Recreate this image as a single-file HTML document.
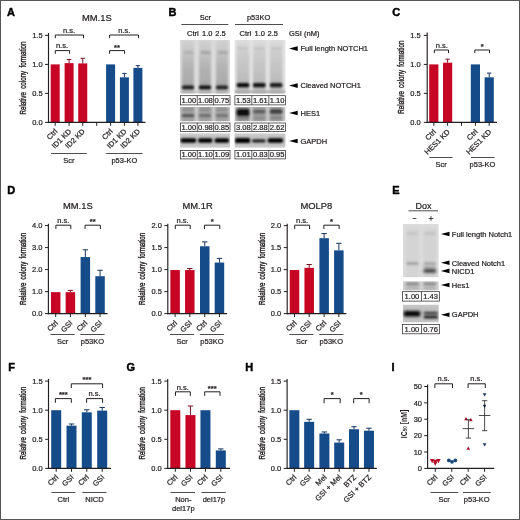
<!DOCTYPE html>
<html><head><meta charset="utf-8"><title>Figure</title>
<style>
html,body{margin:0;padding:0;background:#fff;}
body{width:520px;height:520px;overflow:hidden;position:relative;}
#fig{position:absolute;left:0;top:0;width:520px;height:520px;box-sizing:border-box;}
text{stroke:#231f20;stroke-width:.22px;stroke-linejoin:round;}
svg{display:block;will-change:transform;font-family:'Liberation Sans', sans-serif;}
</style></head><body>
<div id="fig">
<svg width="520" height="520" viewBox="0 0 520 520">
<defs>
<linearGradient id="lgL" x1="0" y1="0" x2="0" y2="1"><stop offset="0" stop-color="#c8c8c8" stop-opacity="0.55"/><stop offset="0.22" stop-color="#bdbdbd" stop-opacity="0.8"/><stop offset="0.45" stop-color="#b0b0b0" stop-opacity="0.95"/><stop offset="0.85" stop-color="#a4a4a4" stop-opacity="1"/><stop offset="1" stop-color="#b4b4b4" stop-opacity="0.9"/></linearGradient>
<linearGradient id="lgR" x1="0" y1="0" x2="0" y2="1"><stop offset="0" stop-color="#d4d4d4" stop-opacity="0.5"/><stop offset="0.25" stop-color="#c6c6c6" stop-opacity="0.85"/><stop offset="0.8" stop-color="#b6b6b6" stop-opacity="1"/><stop offset="1" stop-color="#bcbcbc" stop-opacity="0.9"/></linearGradient>
<clipPath id="cb1"><rect x="180" y="40" width="50" height="53.4"/></clipPath>
<filter id="b11" x="-50%" y="-100%" width="200%" height="300%"><feGaussianBlur stdDeviation="1.1"/></filter>
<filter id="b10" x="-50%" y="-100%" width="200%" height="300%"><feGaussianBlur stdDeviation="1.0"/></filter>
<filter id="b12" x="-50%" y="-100%" width="200%" height="300%"><feGaussianBlur stdDeviation="1.2"/></filter>
<filter id="b8" x="-50%" y="-100%" width="200%" height="300%"><feGaussianBlur stdDeviation="0.8"/></filter>
<clipPath id="cb2"><rect x="234.4" y="40" width="51.2" height="53.6"/></clipPath>
<clipPath id="cb3"><rect x="180" y="107" width="50" height="14.2"/></clipPath>
<clipPath id="cb4"><rect x="234.4" y="107" width="51.2" height="14.2"/></clipPath>
<filter id="b13" x="-50%" y="-100%" width="200%" height="300%"><feGaussianBlur stdDeviation="1.3"/></filter>
<clipPath id="cb5"><rect x="180" y="133.2" width="50" height="14.6"/></clipPath>
<filter id="b15" x="-50%" y="-100%" width="200%" height="300%"><feGaussianBlur stdDeviation="1.5"/></filter>
<clipPath id="cb6"><rect x="234.4" y="133.2" width="51.2" height="14.6"/></clipPath>
<clipPath id="ce1"><rect x="402.8" y="224" width="36" height="53.3"/></clipPath>
<clipPath id="ce2"><rect x="402.8" y="281.2" width="36" height="9.4"/></clipPath>
<clipPath id="ce3"><rect x="402.8" y="304.6" width="36" height="17.8"/></clipPath>
<filter id="b20" x="-50%" y="-100%" width="200%" height="300%"><feGaussianBlur stdDeviation="2.0"/></filter>
</defs>
<rect x="0" y="0" width="520" height="520" fill="#fff"/>
<text x="7.0" y="16.0" font-size="11" text-anchor="start" font-weight="bold" fill="#000" style="stroke:#000;stroke-width:.45px">A</text>
<text x="96.8" y="20.7" font-size="9.4" text-anchor="middle" font-weight="normal" fill="#231f20">MM.1S</text>
<text x="22.7" y="114.6" font-size="8.6" fill="#231f20" textLength="73.1" lengthAdjust="spacingAndGlyphs" transform="rotate(-90 22.7 114.6)" dominant-baseline="central" style="stroke-width:.4px;word-spacing:2px">Relative colony formation</text>
<rect x="50.70" y="64.40" width="9" height="58.00" fill="#c70524"/>
<rect x="64.60" y="63.12" width="9" height="59.28" fill="#c70524"/>
<line x1="69.1" y1="63.124" x2="69.1" y2="59.470000000000006" stroke="#7d1222" stroke-width="1.0" stroke-linecap="butt"/>
<line x1="66.89999999999999" y1="59.470000000000006" x2="71.3" y2="59.470000000000006" stroke="#7d1222" stroke-width="1.0" stroke-linecap="butt"/>
<rect x="78.25" y="63.41" width="9" height="58.99" fill="#c70524"/>
<line x1="82.75" y1="63.41400000000001" x2="82.75" y2="58.31" stroke="#7d1222" stroke-width="1.0" stroke-linecap="butt"/>
<line x1="80.55" y1="58.31" x2="84.95" y2="58.31" stroke="#7d1222" stroke-width="1.0" stroke-linecap="butt"/>
<rect x="106.10" y="64.40" width="9" height="58.00" fill="#164b8a"/>
<rect x="119.90" y="77.33" width="9" height="45.07" fill="#164b8a"/>
<line x1="124.4" y1="77.334" x2="124.4" y2="73.39000000000001" stroke="#17355f" stroke-width="1.0" stroke-linecap="butt"/>
<line x1="122.2" y1="73.39000000000001" x2="126.60000000000001" y2="73.39000000000001" stroke="#17355f" stroke-width="1.0" stroke-linecap="butt"/>
<rect x="133.40" y="67.88" width="9" height="54.52" fill="#164b8a"/>
<line x1="137.9" y1="67.88000000000001" x2="137.9" y2="65.67600000000002" stroke="#17355f" stroke-width="1.0" stroke-linecap="butt"/>
<line x1="135.70000000000002" y1="65.67600000000002" x2="140.1" y2="65.67600000000002" stroke="#17355f" stroke-width="1.0" stroke-linecap="butt"/>
<line x1="48.5" y1="33" x2="48.5" y2="122.95" stroke="#231f20" stroke-width="1.15" stroke-linecap="butt"/>
<line x1="47.95" y1="122.4" x2="145.5" y2="122.4" stroke="#231f20" stroke-width="1.15" stroke-linecap="butt"/>
<line x1="45.1" y1="122.4" x2="48.5" y2="122.4" stroke="#231f20" stroke-width="1.0" stroke-linecap="butt"/>
<text x="42.6" y="125.10000000000001" font-size="7.5" text-anchor="end" font-weight="normal" fill="#231f20">0.0</text>
<line x1="45.1" y1="93.4" x2="48.5" y2="93.4" stroke="#231f20" stroke-width="1.0" stroke-linecap="butt"/>
<text x="42.6" y="96.10000000000001" font-size="7.5" text-anchor="end" font-weight="normal" fill="#231f20">0.5</text>
<line x1="45.1" y1="64.4" x2="48.5" y2="64.4" stroke="#231f20" stroke-width="1.0" stroke-linecap="butt"/>
<text x="42.6" y="67.10000000000001" font-size="7.5" text-anchor="end" font-weight="normal" fill="#231f20">1.0</text>
<line x1="45.1" y1="35.400000000000006" x2="48.5" y2="35.400000000000006" stroke="#231f20" stroke-width="1.0" stroke-linecap="butt"/>
<text x="42.6" y="38.10000000000001" font-size="7.5" text-anchor="end" font-weight="normal" fill="#231f20">1.5</text>
<line x1="55.2" y1="122.4" x2="55.2" y2="125.80000000000001" stroke="#231f20" stroke-width="1.0" stroke-linecap="butt"/>
<line x1="69.1" y1="122.4" x2="69.1" y2="125.80000000000001" stroke="#231f20" stroke-width="1.0" stroke-linecap="butt"/>
<line x1="82.75" y1="122.4" x2="82.75" y2="125.80000000000001" stroke="#231f20" stroke-width="1.0" stroke-linecap="butt"/>
<line x1="110.6" y1="122.4" x2="110.6" y2="125.80000000000001" stroke="#231f20" stroke-width="1.0" stroke-linecap="butt"/>
<line x1="124.4" y1="122.4" x2="124.4" y2="125.80000000000001" stroke="#231f20" stroke-width="1.0" stroke-linecap="butt"/>
<line x1="137.9" y1="122.4" x2="137.9" y2="125.80000000000001" stroke="#231f20" stroke-width="1.0" stroke-linecap="butt"/>
<line x1="96.7" y1="122.4" x2="96.7" y2="125.80000000000001" stroke="#231f20" stroke-width="1.0" stroke-linecap="butt"/>
<text x="57.900000000000006" y="131.9" font-size="7.5" text-anchor="end" font-weight="normal" fill="#231f20" transform="rotate(-45 57.900000000000006 131.9)">Ctrl</text>
<text x="71.8" y="131.9" font-size="7.5" text-anchor="end" font-weight="normal" fill="#231f20" transform="rotate(-45 71.8 131.9)">ID1 KD</text>
<text x="85.45" y="131.9" font-size="7.5" text-anchor="end" font-weight="normal" fill="#231f20" transform="rotate(-45 85.45 131.9)">ID2 KD</text>
<text x="113.3" y="131.9" font-size="7.5" text-anchor="end" font-weight="normal" fill="#231f20" transform="rotate(-45 113.3 131.9)">Ctrl</text>
<text x="127.10000000000001" y="131.9" font-size="7.5" text-anchor="end" font-weight="normal" fill="#231f20" transform="rotate(-45 127.10000000000001 131.9)">ID1 KD</text>
<text x="140.6" y="131.9" font-size="7.5" text-anchor="end" font-weight="normal" fill="#231f20" transform="rotate(-45 140.6 131.9)">ID2 KD</text>
<path d="M55.3 38.2V35H83.5V38.2" fill="none" stroke="#231f20" stroke-width="1.0"/>
<text x="69" y="32.6" font-size="7.5" text-anchor="middle" font-weight="normal" fill="#231f20">n.s.</text>
<path d="M55.3 53.800000000000004V50.6H69.6V53.800000000000004" fill="none" stroke="#231f20" stroke-width="1.0"/>
<text x="62" y="48" font-size="7.5" text-anchor="middle" font-weight="normal" fill="#231f20">n.s.</text>
<path d="M109.6 38.2V35H138.5V38.2" fill="none" stroke="#231f20" stroke-width="1.0"/>
<text x="124.2" y="32.7" font-size="7.5" text-anchor="middle" font-weight="normal" fill="#231f20">n.s.</text>
<path d="M109.6 53.800000000000004V50.6H124.6V53.800000000000004" fill="none" stroke="#231f20" stroke-width="1.0"/>
<text x="117" y="50" font-size="7.5" text-anchor="middle" font-weight="bold" fill="#231f20">**</text>
<line x1="51" y1="153.5" x2="86.8" y2="153.5" stroke="#231f20" stroke-width="0.8" stroke-linecap="butt"/>
<text x="68.9" y="162.6" font-size="7.5" text-anchor="middle" font-weight="normal" fill="#231f20">Scr</text>
<line x1="106.2" y1="153.5" x2="142.5" y2="153.5" stroke="#231f20" stroke-width="0.8" stroke-linecap="butt"/>
<text x="124.35" y="162.6" font-size="7.5" text-anchor="middle" font-weight="normal" fill="#231f20">p53-KO</text>
<text x="392.2" y="16.1" font-size="11" text-anchor="start" font-weight="bold" fill="#000" style="stroke:#000;stroke-width:.45px">C</text>
<text x="401.2" y="113.7" font-size="8.6" fill="#231f20" textLength="73.1" lengthAdjust="spacingAndGlyphs" transform="rotate(-90 401.2 113.7)" dominant-baseline="central" style="stroke-width:.4px;word-spacing:2px">Relative colony formation</text>
<rect x="429.20" y="64.40" width="9.2" height="58.00" fill="#c70524"/>
<rect x="443.00" y="62.66" width="9.2" height="59.74" fill="#c70524"/>
<line x1="447.6" y1="62.660000000000004" x2="447.6" y2="59.18" stroke="#7d1222" stroke-width="1.0" stroke-linecap="butt"/>
<line x1="445.40000000000003" y1="59.18" x2="449.8" y2="59.18" stroke="#7d1222" stroke-width="1.0" stroke-linecap="butt"/>
<rect x="470.80" y="64.40" width="9.2" height="58.00" fill="#164b8a"/>
<rect x="484.60" y="77.33" width="9.2" height="45.07" fill="#164b8a"/>
<line x1="489.2" y1="77.334" x2="489.2" y2="73.10000000000001" stroke="#17355f" stroke-width="1.0" stroke-linecap="butt"/>
<line x1="487.0" y1="73.10000000000001" x2="491.4" y2="73.10000000000001" stroke="#17355f" stroke-width="1.0" stroke-linecap="butt"/>
<line x1="427.2" y1="32.5" x2="427.2" y2="122.95" stroke="#231f20" stroke-width="1.15" stroke-linecap="butt"/>
<line x1="426.65" y1="122.4" x2="497" y2="122.4" stroke="#231f20" stroke-width="1.15" stroke-linecap="butt"/>
<line x1="423.8" y1="122.4" x2="427.2" y2="122.4" stroke="#231f20" stroke-width="1.0" stroke-linecap="butt"/>
<text x="420.8" y="125.10000000000001" font-size="7.5" text-anchor="end" font-weight="normal" fill="#231f20">0.0</text>
<line x1="423.8" y1="93.4" x2="427.2" y2="93.4" stroke="#231f20" stroke-width="1.0" stroke-linecap="butt"/>
<text x="420.8" y="96.10000000000001" font-size="7.5" text-anchor="end" font-weight="normal" fill="#231f20">0.5</text>
<line x1="423.8" y1="64.4" x2="427.2" y2="64.4" stroke="#231f20" stroke-width="1.0" stroke-linecap="butt"/>
<text x="420.8" y="67.10000000000001" font-size="7.5" text-anchor="end" font-weight="normal" fill="#231f20">1.0</text>
<line x1="423.8" y1="35.400000000000006" x2="427.2" y2="35.400000000000006" stroke="#231f20" stroke-width="1.0" stroke-linecap="butt"/>
<text x="420.8" y="38.10000000000001" font-size="7.5" text-anchor="end" font-weight="normal" fill="#231f20">1.5</text>
<line x1="433.8" y1="122.4" x2="433.8" y2="125.80000000000001" stroke="#231f20" stroke-width="1.0" stroke-linecap="butt"/>
<line x1="447.6" y1="122.4" x2="447.6" y2="125.80000000000001" stroke="#231f20" stroke-width="1.0" stroke-linecap="butt"/>
<line x1="475.4" y1="122.4" x2="475.4" y2="125.80000000000001" stroke="#231f20" stroke-width="1.0" stroke-linecap="butt"/>
<line x1="489.2" y1="122.4" x2="489.2" y2="125.80000000000001" stroke="#231f20" stroke-width="1.0" stroke-linecap="butt"/>
<line x1="461.5" y1="122.4" x2="461.5" y2="125.80000000000001" stroke="#231f20" stroke-width="1.0" stroke-linecap="butt"/>
<text x="436.5" y="132.4" font-size="7.5" text-anchor="end" font-weight="normal" fill="#231f20" transform="rotate(-45 436.5 132.4)">Ctrl</text>
<text x="450.3" y="132.4" font-size="7.5" text-anchor="end" font-weight="normal" fill="#231f20" transform="rotate(-45 450.3 132.4)">HES1 KD</text>
<text x="478.09999999999997" y="132.4" font-size="7.5" text-anchor="end" font-weight="normal" fill="#231f20" transform="rotate(-45 478.09999999999997 132.4)">Ctrl</text>
<text x="491.9" y="132.4" font-size="7.5" text-anchor="end" font-weight="normal" fill="#231f20" transform="rotate(-45 491.9 132.4)">HES1 KD</text>
<path d="M434.3 53.2V50.0H448.5V53.2" fill="none" stroke="#231f20" stroke-width="1.0"/>
<text x="441.8" y="47.5" font-size="7.5" text-anchor="middle" font-weight="normal" fill="#231f20">n.s.</text>
<path d="M474.8 53.2V50.0H489.5V53.2" fill="none" stroke="#231f20" stroke-width="1.0"/>
<text x="482.2" y="49.2" font-size="7.5" text-anchor="middle" font-weight="bold" fill="#231f20">*</text>
<line x1="429.5" y1="157.5" x2="452.6" y2="157.5" stroke="#231f20" stroke-width="0.8" stroke-linecap="butt"/>
<text x="441" y="167.3" font-size="7.5" text-anchor="middle" font-weight="normal" fill="#231f20">Scr</text>
<line x1="470.8" y1="157.5" x2="494.6" y2="157.5" stroke="#231f20" stroke-width="0.8" stroke-linecap="butt"/>
<text x="482.5" y="167.3" font-size="7.5" text-anchor="middle" font-weight="normal" fill="#231f20">p53-KO</text>
<text x="7.2" y="194.2" font-size="11" text-anchor="start" font-weight="bold" fill="#000" style="stroke:#000;stroke-width:.45px">D</text>
<text x="77.8" y="208.6" font-size="9.4" text-anchor="middle" font-weight="normal" fill="#231f20">MM.1S</text>
<rect x="50.95" y="292.15" width="9.5" height="21.45" fill="#c70524"/>
<rect x="65.65" y="292.15" width="9.5" height="21.45" fill="#c70524"/>
<line x1="70.4" y1="292.15000000000003" x2="70.4" y2="290.39000000000004" stroke="#7d1222" stroke-width="1.0" stroke-linecap="butt"/>
<line x1="67.7" y1="290.39000000000004" x2="73.10000000000001" y2="290.39000000000004" stroke="#7d1222" stroke-width="1.0" stroke-linecap="butt"/>
<rect x="80.60" y="257.06" width="9.5" height="56.54" fill="#164b8a"/>
<line x1="85.35" y1="257.06" x2="85.35" y2="249.8" stroke="#17355f" stroke-width="1.0" stroke-linecap="butt"/>
<line x1="82.64999999999999" y1="249.8" x2="88.05" y2="249.8" stroke="#17355f" stroke-width="1.0" stroke-linecap="butt"/>
<rect x="95.30" y="276.20" width="9.5" height="37.40" fill="#164b8a"/>
<line x1="100.05" y1="276.20000000000005" x2="100.05" y2="270.26000000000005" stroke="#17355f" stroke-width="1.0" stroke-linecap="butt"/>
<line x1="97.35" y1="270.26000000000005" x2="102.75" y2="270.26000000000005" stroke="#17355f" stroke-width="1.0" stroke-linecap="butt"/>
<line x1="48.4" y1="223.8" x2="48.4" y2="314.15000000000003" stroke="#231f20" stroke-width="1.15" stroke-linecap="butt"/>
<line x1="47.85" y1="313.6" x2="107.6" y2="313.6" stroke="#231f20" stroke-width="1.15" stroke-linecap="butt"/>
<line x1="45.0" y1="313.6" x2="48.4" y2="313.6" stroke="#231f20" stroke-width="1.0" stroke-linecap="butt"/>
<text x="42.5" y="316.3" font-size="7.5" text-anchor="end" font-weight="normal" fill="#231f20">0.0</text>
<line x1="45.0" y1="291.6" x2="48.4" y2="291.6" stroke="#231f20" stroke-width="1.0" stroke-linecap="butt"/>
<text x="42.5" y="294.3" font-size="7.5" text-anchor="end" font-weight="normal" fill="#231f20">1.0</text>
<line x1="45.0" y1="269.6" x2="48.4" y2="269.6" stroke="#231f20" stroke-width="1.0" stroke-linecap="butt"/>
<text x="42.5" y="272.3" font-size="7.5" text-anchor="end" font-weight="normal" fill="#231f20">2.0</text>
<line x1="45.0" y1="247.60000000000002" x2="48.4" y2="247.60000000000002" stroke="#231f20" stroke-width="1.0" stroke-linecap="butt"/>
<text x="42.5" y="250.3" font-size="7.5" text-anchor="end" font-weight="normal" fill="#231f20">3.0</text>
<line x1="45.0" y1="225.60000000000002" x2="48.4" y2="225.60000000000002" stroke="#231f20" stroke-width="1.0" stroke-linecap="butt"/>
<text x="42.5" y="228.3" font-size="7.5" text-anchor="end" font-weight="normal" fill="#231f20">4.0</text>
<line x1="55.699999999999996" y1="313.6" x2="55.699999999999996" y2="317.0" stroke="#231f20" stroke-width="1.0" stroke-linecap="butt"/>
<line x1="70.4" y1="313.6" x2="70.4" y2="317.0" stroke="#231f20" stroke-width="1.0" stroke-linecap="butt"/>
<line x1="85.35" y1="313.6" x2="85.35" y2="317.0" stroke="#231f20" stroke-width="1.0" stroke-linecap="butt"/>
<line x1="100.05" y1="313.6" x2="100.05" y2="317.0" stroke="#231f20" stroke-width="1.0" stroke-linecap="butt"/>
<text x="58.4" y="323.5" font-size="7.5" text-anchor="end" font-weight="normal" fill="#231f20" transform="rotate(-45 58.4 323.5)">Ctrl</text>
<text x="73.10000000000001" y="323.5" font-size="7.5" text-anchor="end" font-weight="normal" fill="#231f20" transform="rotate(-45 73.10000000000001 323.5)">GSI</text>
<text x="88.05" y="323.5" font-size="7.5" text-anchor="end" font-weight="normal" fill="#231f20" transform="rotate(-45 88.05 323.5)">Ctrl</text>
<text x="102.75" y="323.5" font-size="7.5" text-anchor="end" font-weight="normal" fill="#231f20" transform="rotate(-45 102.75 323.5)">GSI</text>
<path d="M55.9 229.0V225.2H70.80000000000001V229.0" fill="none" stroke="#231f20" stroke-width="1.0"/>
<path d="M85.05 229.0V225.2H100.35V229.0" fill="none" stroke="#231f20" stroke-width="1.0"/>
<text x="63.25" y="222.7" font-size="7.5" text-anchor="middle" font-weight="normal" fill="#231f20">n.s.</text>
<text x="92.69999999999999" y="223.9" font-size="7.5" text-anchor="middle" font-weight="bold" fill="#231f20">**</text>
<text x="23.3" y="304.9" font-size="8.6" fill="#231f20" textLength="72.09999999999997" lengthAdjust="spacingAndGlyphs" transform="rotate(-90 23.3 304.9)" dominant-baseline="central" style="stroke-width:.4px;word-spacing:2px">Relative colony formation</text>
<line x1="50.5" y1="334.5" x2="74.6" y2="334.5" stroke="#231f20" stroke-width="0.8" stroke-linecap="butt"/>
<text x="62.6" y="343.6" font-size="7.5" text-anchor="middle" font-weight="normal" fill="#231f20">Scr</text>
<line x1="80.3" y1="334.5" x2="104.6" y2="334.5" stroke="#231f20" stroke-width="0.8" stroke-linecap="butt"/>
<text x="92.4" y="343.6" font-size="7.5" text-anchor="middle" font-weight="normal" fill="#231f20">p53KO</text>
<text x="197.6" y="208.6" font-size="9.4" text-anchor="middle" font-weight="normal" fill="#231f20">MM.1R</text>
<rect x="170.35" y="270.04" width="9.5" height="43.56" fill="#c70524"/>
<rect x="185.05" y="270.04" width="9.5" height="43.56" fill="#c70524"/>
<line x1="189.8" y1="270.04" x2="189.8" y2="268.5" stroke="#7d1222" stroke-width="1.0" stroke-linecap="butt"/>
<line x1="187.10000000000002" y1="268.5" x2="192.5" y2="268.5" stroke="#7d1222" stroke-width="1.0" stroke-linecap="butt"/>
<rect x="200.00" y="246.28" width="9.5" height="67.32" fill="#164b8a"/>
<line x1="204.75" y1="246.28000000000003" x2="204.75" y2="241.88000000000002" stroke="#17355f" stroke-width="1.0" stroke-linecap="butt"/>
<line x1="202.05" y1="241.88000000000002" x2="207.45" y2="241.88000000000002" stroke="#17355f" stroke-width="1.0" stroke-linecap="butt"/>
<rect x="214.70" y="262.56" width="9.5" height="51.04" fill="#164b8a"/>
<line x1="219.45000000000002" y1="262.56" x2="219.45000000000002" y2="258.38" stroke="#17355f" stroke-width="1.0" stroke-linecap="butt"/>
<line x1="216.75000000000003" y1="258.38" x2="222.15" y2="258.38" stroke="#17355f" stroke-width="1.0" stroke-linecap="butt"/>
<line x1="167.8" y1="223.8" x2="167.8" y2="314.15000000000003" stroke="#231f20" stroke-width="1.15" stroke-linecap="butt"/>
<line x1="167.25" y1="313.6" x2="227.0" y2="313.6" stroke="#231f20" stroke-width="1.15" stroke-linecap="butt"/>
<line x1="164.4" y1="313.6" x2="167.8" y2="313.6" stroke="#231f20" stroke-width="1.0" stroke-linecap="butt"/>
<text x="161.9" y="316.3" font-size="7.5" text-anchor="end" font-weight="normal" fill="#231f20">0.0</text>
<line x1="164.4" y1="291.6" x2="167.8" y2="291.6" stroke="#231f20" stroke-width="1.0" stroke-linecap="butt"/>
<text x="161.9" y="294.3" font-size="7.5" text-anchor="end" font-weight="normal" fill="#231f20">0.5</text>
<line x1="164.4" y1="269.6" x2="167.8" y2="269.6" stroke="#231f20" stroke-width="1.0" stroke-linecap="butt"/>
<text x="161.9" y="272.3" font-size="7.5" text-anchor="end" font-weight="normal" fill="#231f20">1.0</text>
<line x1="164.4" y1="247.60000000000002" x2="167.8" y2="247.60000000000002" stroke="#231f20" stroke-width="1.0" stroke-linecap="butt"/>
<text x="161.9" y="250.3" font-size="7.5" text-anchor="end" font-weight="normal" fill="#231f20">1.5</text>
<line x1="164.4" y1="225.60000000000002" x2="167.8" y2="225.60000000000002" stroke="#231f20" stroke-width="1.0" stroke-linecap="butt"/>
<text x="161.9" y="228.3" font-size="7.5" text-anchor="end" font-weight="normal" fill="#231f20">2.0</text>
<line x1="175.10000000000002" y1="313.6" x2="175.10000000000002" y2="317.0" stroke="#231f20" stroke-width="1.0" stroke-linecap="butt"/>
<line x1="189.8" y1="313.6" x2="189.8" y2="317.0" stroke="#231f20" stroke-width="1.0" stroke-linecap="butt"/>
<line x1="204.75" y1="313.6" x2="204.75" y2="317.0" stroke="#231f20" stroke-width="1.0" stroke-linecap="butt"/>
<line x1="219.45000000000002" y1="313.6" x2="219.45000000000002" y2="317.0" stroke="#231f20" stroke-width="1.0" stroke-linecap="butt"/>
<text x="177.8" y="323.5" font-size="7.5" text-anchor="end" font-weight="normal" fill="#231f20" transform="rotate(-45 177.8 323.5)">Ctrl</text>
<text x="192.5" y="323.5" font-size="7.5" text-anchor="end" font-weight="normal" fill="#231f20" transform="rotate(-45 192.5 323.5)">GSI</text>
<text x="207.45" y="323.5" font-size="7.5" text-anchor="end" font-weight="normal" fill="#231f20" transform="rotate(-45 207.45 323.5)">Ctrl</text>
<text x="222.15" y="323.5" font-size="7.5" text-anchor="end" font-weight="normal" fill="#231f20" transform="rotate(-45 222.15 323.5)">GSI</text>
<path d="M175.3 229.0V225.2H190.20000000000002V229.0" fill="none" stroke="#231f20" stroke-width="1.0"/>
<path d="M204.45 229.0V225.2H219.75000000000003V229.0" fill="none" stroke="#231f20" stroke-width="1.0"/>
<text x="182.65" y="222.7" font-size="7.5" text-anchor="middle" font-weight="normal" fill="#231f20">n.s.</text>
<text x="212.10000000000002" y="223.9" font-size="7.5" text-anchor="middle" font-weight="bold" fill="#231f20">*</text>
<text x="141.9" y="304.9" font-size="8.6" fill="#231f20" textLength="72.09999999999997" lengthAdjust="spacingAndGlyphs" transform="rotate(-90 141.9 304.9)" dominant-baseline="central" style="stroke-width:.4px;word-spacing:2px">Relative colony formation</text>
<line x1="170" y1="334.5" x2="194.1" y2="334.5" stroke="#231f20" stroke-width="0.8" stroke-linecap="butt"/>
<text x="182.1" y="343.6" font-size="7.5" text-anchor="middle" font-weight="normal" fill="#231f20">Scr</text>
<line x1="199.8" y1="334.5" x2="224.1" y2="334.5" stroke="#231f20" stroke-width="0.8" stroke-linecap="butt"/>
<text x="211.9" y="343.6" font-size="7.5" text-anchor="middle" font-weight="normal" fill="#231f20">p53KO</text>
<text x="316.3" y="208.6" font-size="9.4" text-anchor="middle" font-weight="normal" fill="#231f20">MOLP8</text>
<rect x="289.75" y="270.04" width="9.5" height="43.56" fill="#c70524"/>
<rect x="304.45" y="267.84" width="9.5" height="45.76" fill="#c70524"/>
<line x1="309.2" y1="267.84000000000003" x2="309.2" y2="264.49600000000004" stroke="#7d1222" stroke-width="1.0" stroke-linecap="butt"/>
<line x1="306.5" y1="264.49600000000004" x2="311.9" y2="264.49600000000004" stroke="#7d1222" stroke-width="1.0" stroke-linecap="butt"/>
<rect x="319.40" y="238.18" width="9.5" height="75.42" fill="#164b8a"/>
<line x1="324.15" y1="238.18400000000003" x2="324.15" y2="233.608" stroke="#17355f" stroke-width="1.0" stroke-linecap="butt"/>
<line x1="321.45" y1="233.608" x2="326.84999999999997" y2="233.608" stroke="#17355f" stroke-width="1.0" stroke-linecap="butt"/>
<rect x="334.10" y="250.37" width="9.5" height="63.23" fill="#164b8a"/>
<line x1="338.84999999999997" y1="250.372" x2="338.84999999999997" y2="243.288" stroke="#17355f" stroke-width="1.0" stroke-linecap="butt"/>
<line x1="336.15" y1="243.288" x2="341.54999999999995" y2="243.288" stroke="#17355f" stroke-width="1.0" stroke-linecap="butt"/>
<line x1="287.2" y1="223.8" x2="287.2" y2="314.15000000000003" stroke="#231f20" stroke-width="1.15" stroke-linecap="butt"/>
<line x1="286.65" y1="313.6" x2="346.4" y2="313.6" stroke="#231f20" stroke-width="1.15" stroke-linecap="butt"/>
<line x1="283.8" y1="313.6" x2="287.2" y2="313.6" stroke="#231f20" stroke-width="1.0" stroke-linecap="butt"/>
<text x="281.3" y="316.3" font-size="7.5" text-anchor="end" font-weight="normal" fill="#231f20">0.0</text>
<line x1="283.8" y1="291.6" x2="287.2" y2="291.6" stroke="#231f20" stroke-width="1.0" stroke-linecap="butt"/>
<text x="281.3" y="294.3" font-size="7.5" text-anchor="end" font-weight="normal" fill="#231f20">0.5</text>
<line x1="283.8" y1="269.6" x2="287.2" y2="269.6" stroke="#231f20" stroke-width="1.0" stroke-linecap="butt"/>
<text x="281.3" y="272.3" font-size="7.5" text-anchor="end" font-weight="normal" fill="#231f20">1.0</text>
<line x1="283.8" y1="247.60000000000002" x2="287.2" y2="247.60000000000002" stroke="#231f20" stroke-width="1.0" stroke-linecap="butt"/>
<text x="281.3" y="250.3" font-size="7.5" text-anchor="end" font-weight="normal" fill="#231f20">1.5</text>
<line x1="283.8" y1="225.60000000000002" x2="287.2" y2="225.60000000000002" stroke="#231f20" stroke-width="1.0" stroke-linecap="butt"/>
<text x="281.3" y="228.3" font-size="7.5" text-anchor="end" font-weight="normal" fill="#231f20">2.0</text>
<line x1="294.5" y1="313.6" x2="294.5" y2="317.0" stroke="#231f20" stroke-width="1.0" stroke-linecap="butt"/>
<line x1="309.2" y1="313.6" x2="309.2" y2="317.0" stroke="#231f20" stroke-width="1.0" stroke-linecap="butt"/>
<line x1="324.15" y1="313.6" x2="324.15" y2="317.0" stroke="#231f20" stroke-width="1.0" stroke-linecap="butt"/>
<line x1="338.84999999999997" y1="313.6" x2="338.84999999999997" y2="317.0" stroke="#231f20" stroke-width="1.0" stroke-linecap="butt"/>
<text x="297.2" y="323.5" font-size="7.5" text-anchor="end" font-weight="normal" fill="#231f20" transform="rotate(-45 297.2 323.5)">Ctrl</text>
<text x="311.9" y="323.5" font-size="7.5" text-anchor="end" font-weight="normal" fill="#231f20" transform="rotate(-45 311.9 323.5)">GSI</text>
<text x="326.84999999999997" y="323.5" font-size="7.5" text-anchor="end" font-weight="normal" fill="#231f20" transform="rotate(-45 326.84999999999997 323.5)">Ctrl</text>
<text x="341.54999999999995" y="323.5" font-size="7.5" text-anchor="end" font-weight="normal" fill="#231f20" transform="rotate(-45 341.54999999999995 323.5)">GSI</text>
<path d="M294.7 229.0V225.2H309.59999999999997V229.0" fill="none" stroke="#231f20" stroke-width="1.0"/>
<path d="M323.84999999999997 229.0V225.2H339.15V229.0" fill="none" stroke="#231f20" stroke-width="1.0"/>
<text x="302.05" y="222.7" font-size="7.5" text-anchor="middle" font-weight="normal" fill="#231f20">n.s.</text>
<text x="331.5" y="223.9" font-size="7.5" text-anchor="middle" font-weight="bold" fill="#231f20">*</text>
<text x="261.8" y="304.9" font-size="8.6" fill="#231f20" textLength="72.09999999999997" lengthAdjust="spacingAndGlyphs" transform="rotate(-90 261.8 304.9)" dominant-baseline="central" style="stroke-width:.4px;word-spacing:2px">Relative colony formation</text>
<line x1="289.4" y1="334.5" x2="313.5" y2="334.5" stroke="#231f20" stroke-width="0.8" stroke-linecap="butt"/>
<text x="301.5" y="343.6" font-size="7.5" text-anchor="middle" font-weight="normal" fill="#231f20">Scr</text>
<line x1="319.2" y1="334.5" x2="343.5" y2="334.5" stroke="#231f20" stroke-width="0.8" stroke-linecap="butt"/>
<text x="331.3" y="343.6" font-size="7.5" text-anchor="middle" font-weight="normal" fill="#231f20">p53KO</text>
<text x="8.2" y="370.6" font-size="11" text-anchor="start" font-weight="bold" fill="#000" style="stroke:#000;stroke-width:.45px">F</text>
<text x="22.9" y="459.6" font-size="8.6" fill="#231f20" textLength="72.70000000000005" lengthAdjust="spacingAndGlyphs" transform="rotate(-90 22.9 459.6)" dominant-baseline="central" style="stroke-width:.4px;word-spacing:2px">Relative colony formation</text>
<rect x="51.20" y="410.20" width="10" height="58.20" fill="#164b8a"/>
<rect x="66.50" y="425.68" width="10" height="42.72" fill="#164b8a"/>
<line x1="71.5" y1="425.6812" x2="71.5" y2="423.99339999999995" stroke="#17355f" stroke-width="1.0" stroke-linecap="butt"/>
<line x1="68.8" y1="423.99339999999995" x2="74.2" y2="423.99339999999995" stroke="#17355f" stroke-width="1.0" stroke-linecap="butt"/>
<rect x="81.80" y="412.30" width="10" height="56.10" fill="#164b8a"/>
<line x1="86.8" y1="412.29519999999997" x2="86.8" y2="409.7926" stroke="#17355f" stroke-width="1.0" stroke-linecap="butt"/>
<line x1="84.1" y1="409.7926" x2="89.5" y2="409.7926" stroke="#17355f" stroke-width="1.0" stroke-linecap="butt"/>
<rect x="97.20" y="410.61" width="10" height="57.79" fill="#164b8a"/>
<line x1="102.2" y1="410.6074" x2="102.2" y2="407.46459999999996" stroke="#17355f" stroke-width="1.0" stroke-linecap="butt"/>
<line x1="99.5" y1="407.46459999999996" x2="104.9" y2="407.46459999999996" stroke="#17355f" stroke-width="1.0" stroke-linecap="butt"/>
<line x1="48.5" y1="378.9" x2="48.5" y2="468.95" stroke="#231f20" stroke-width="1.15" stroke-linecap="butt"/>
<line x1="47.95" y1="468.4" x2="111" y2="468.4" stroke="#231f20" stroke-width="1.15" stroke-linecap="butt"/>
<line x1="45.1" y1="468.4" x2="48.5" y2="468.4" stroke="#231f20" stroke-width="1.0" stroke-linecap="butt"/>
<text x="42.6" y="471.09999999999997" font-size="7.5" text-anchor="end" font-weight="normal" fill="#231f20">0.0</text>
<line x1="45.1" y1="439.29999999999995" x2="48.5" y2="439.29999999999995" stroke="#231f20" stroke-width="1.0" stroke-linecap="butt"/>
<text x="42.6" y="441.99999999999994" font-size="7.5" text-anchor="end" font-weight="normal" fill="#231f20">0.5</text>
<line x1="45.1" y1="410.2" x2="48.5" y2="410.2" stroke="#231f20" stroke-width="1.0" stroke-linecap="butt"/>
<text x="42.6" y="412.9" font-size="7.5" text-anchor="end" font-weight="normal" fill="#231f20">1.0</text>
<line x1="45.1" y1="381.09999999999997" x2="48.5" y2="381.09999999999997" stroke="#231f20" stroke-width="1.0" stroke-linecap="butt"/>
<text x="42.6" y="383.79999999999995" font-size="7.5" text-anchor="end" font-weight="normal" fill="#231f20">1.5</text>
<line x1="56.2" y1="468.4" x2="56.2" y2="471.79999999999995" stroke="#231f20" stroke-width="1.0" stroke-linecap="butt"/>
<line x1="71.5" y1="468.4" x2="71.5" y2="471.79999999999995" stroke="#231f20" stroke-width="1.0" stroke-linecap="butt"/>
<line x1="86.8" y1="468.4" x2="86.8" y2="471.79999999999995" stroke="#231f20" stroke-width="1.0" stroke-linecap="butt"/>
<line x1="102.2" y1="468.4" x2="102.2" y2="471.79999999999995" stroke="#231f20" stroke-width="1.0" stroke-linecap="butt"/>
<text x="58.900000000000006" y="477.7" font-size="7.5" text-anchor="end" font-weight="normal" fill="#231f20" transform="rotate(-45 58.900000000000006 477.7)">Ctrl</text>
<text x="74.2" y="477.7" font-size="7.5" text-anchor="end" font-weight="normal" fill="#231f20" transform="rotate(-45 74.2 477.7)">GSI</text>
<text x="89.5" y="477.7" font-size="7.5" text-anchor="end" font-weight="normal" fill="#231f20" transform="rotate(-45 89.5 477.7)">Ctrl</text>
<text x="104.9" y="477.7" font-size="7.5" text-anchor="end" font-weight="normal" fill="#231f20" transform="rotate(-45 104.9 477.7)">GSI</text>
<path d="M55.4 402.8V398.6H71.3V402.8" fill="none" stroke="#231f20" stroke-width="1.0"/>
<text x="63.3" y="397.1" font-size="7.5" text-anchor="middle" font-weight="bold" fill="#231f20">***</text>
<path d="M86.6 402.8V398.6H102.6V402.8" fill="none" stroke="#231f20" stroke-width="1.0"/>
<text x="94.5" y="395.8" font-size="7.5" text-anchor="middle" font-weight="normal" fill="#231f20">n.s.</text>
<path d="M71.3 388.0V383.8H102.6V388.0" fill="none" stroke="#231f20" stroke-width="1.0"/>
<text x="87" y="381.7" font-size="7.5" text-anchor="middle" font-weight="bold" fill="#231f20">***</text>
<line x1="51.5" y1="492.5" x2="75.4" y2="492.5" stroke="#231f20" stroke-width="0.8" stroke-linecap="butt"/>
<text x="63.45" y="501.8" font-size="7.5" text-anchor="middle" font-weight="normal" fill="#231f20">Ctrl</text>
<line x1="82.3" y1="492.5" x2="106.5" y2="492.5" stroke="#231f20" stroke-width="0.8" stroke-linecap="butt"/>
<text x="94.4" y="501.8" font-size="7.5" text-anchor="middle" font-weight="normal" fill="#231f20">NICD</text>
<text x="126.4" y="370.6" font-size="11" text-anchor="start" font-weight="bold" fill="#000" style="stroke:#000;stroke-width:.45px">G</text>
<text x="142.2" y="459.6" font-size="8.6" fill="#231f20" textLength="72.70000000000005" lengthAdjust="spacingAndGlyphs" transform="rotate(-90 142.2 459.6)" dominant-baseline="central" style="stroke-width:.4px;word-spacing:2px">Relative colony formation</text>
<rect x="170.30" y="410.20" width="10" height="58.20" fill="#c70524"/>
<rect x="185.45" y="415.09" width="10" height="53.31" fill="#c70524"/>
<line x1="190.45" y1="415.0888" x2="190.45" y2="406.0096" stroke="#7d1222" stroke-width="1.0" stroke-linecap="butt"/>
<line x1="187.75" y1="406.0096" x2="193.14999999999998" y2="406.0096" stroke="#7d1222" stroke-width="1.0" stroke-linecap="butt"/>
<rect x="200.45" y="410.20" width="10" height="58.20" fill="#164b8a"/>
<rect x="215.80" y="450.42" width="10" height="17.98" fill="#164b8a"/>
<line x1="220.8" y1="450.4162" x2="220.8" y2="448.90299999999996" stroke="#17355f" stroke-width="1.0" stroke-linecap="butt"/>
<line x1="218.10000000000002" y1="448.90299999999996" x2="223.5" y2="448.90299999999996" stroke="#17355f" stroke-width="1.0" stroke-linecap="butt"/>
<line x1="167.7" y1="378.9" x2="167.7" y2="468.95" stroke="#231f20" stroke-width="1.15" stroke-linecap="butt"/>
<line x1="167.14999999999998" y1="468.4" x2="230" y2="468.4" stroke="#231f20" stroke-width="1.15" stroke-linecap="butt"/>
<line x1="164.29999999999998" y1="468.4" x2="167.7" y2="468.4" stroke="#231f20" stroke-width="1.0" stroke-linecap="butt"/>
<text x="161.79999999999998" y="471.09999999999997" font-size="7.5" text-anchor="end" font-weight="normal" fill="#231f20">0.0</text>
<line x1="164.29999999999998" y1="439.29999999999995" x2="167.7" y2="439.29999999999995" stroke="#231f20" stroke-width="1.0" stroke-linecap="butt"/>
<text x="161.79999999999998" y="441.99999999999994" font-size="7.5" text-anchor="end" font-weight="normal" fill="#231f20">0.5</text>
<line x1="164.29999999999998" y1="410.2" x2="167.7" y2="410.2" stroke="#231f20" stroke-width="1.0" stroke-linecap="butt"/>
<text x="161.79999999999998" y="412.9" font-size="7.5" text-anchor="end" font-weight="normal" fill="#231f20">1.0</text>
<line x1="164.29999999999998" y1="381.09999999999997" x2="167.7" y2="381.09999999999997" stroke="#231f20" stroke-width="1.0" stroke-linecap="butt"/>
<text x="161.79999999999998" y="383.79999999999995" font-size="7.5" text-anchor="end" font-weight="normal" fill="#231f20">1.5</text>
<line x1="175.3" y1="468.4" x2="175.3" y2="471.79999999999995" stroke="#231f20" stroke-width="1.0" stroke-linecap="butt"/>
<line x1="190.45" y1="468.4" x2="190.45" y2="471.79999999999995" stroke="#231f20" stroke-width="1.0" stroke-linecap="butt"/>
<line x1="205.45" y1="468.4" x2="205.45" y2="471.79999999999995" stroke="#231f20" stroke-width="1.0" stroke-linecap="butt"/>
<line x1="220.8" y1="468.4" x2="220.8" y2="471.79999999999995" stroke="#231f20" stroke-width="1.0" stroke-linecap="butt"/>
<text x="178.0" y="477.7" font-size="7.5" text-anchor="end" font-weight="normal" fill="#231f20" transform="rotate(-45 178.0 477.7)">Ctrl</text>
<text x="193.14999999999998" y="477.7" font-size="7.5" text-anchor="end" font-weight="normal" fill="#231f20" transform="rotate(-45 193.14999999999998 477.7)">GSI</text>
<text x="208.14999999999998" y="477.7" font-size="7.5" text-anchor="end" font-weight="normal" fill="#231f20" transform="rotate(-45 208.14999999999998 477.7)">Ctrl</text>
<text x="223.5" y="477.7" font-size="7.5" text-anchor="end" font-weight="normal" fill="#231f20" transform="rotate(-45 223.5 477.7)">GSI</text>
<path d="M175.5 395.8V391.8H190.3V395.8" fill="none" stroke="#231f20" stroke-width="1.0"/>
<text x="182.7" y="389.5" font-size="7.5" text-anchor="middle" font-weight="normal" fill="#231f20">n.s.</text>
<path d="M204.7 395.8V391.8H220V395.8" fill="none" stroke="#231f20" stroke-width="1.0"/>
<text x="212.2" y="390.9" font-size="7.5" text-anchor="middle" font-weight="bold" fill="#231f20">***</text>
<line x1="170.5" y1="492.5" x2="195" y2="492.5" stroke="#231f20" stroke-width="0.8" stroke-linecap="butt"/>
<text x="183.3" y="501.8" font-size="7.5" text-anchor="middle" font-weight="normal" fill="#231f20">Non-</text>
<text x="183.3" y="510.6" font-size="7.5" text-anchor="middle" font-weight="normal" fill="#231f20">del17p</text>
<line x1="201.5" y1="492.5" x2="225.8" y2="492.5" stroke="#231f20" stroke-width="0.8" stroke-linecap="butt"/>
<text x="213.9" y="501.8" font-size="7.5" text-anchor="middle" font-weight="normal" fill="#231f20">del17p</text>
<text x="245.2" y="370.6" font-size="11" text-anchor="start" font-weight="bold" fill="#000" style="stroke:#000;stroke-width:.45px">H</text>
<text x="261.8" y="459.6" font-size="8.6" fill="#231f20" textLength="72.70000000000005" lengthAdjust="spacingAndGlyphs" transform="rotate(-90 261.8 459.6)" dominant-baseline="central" style="stroke-width:.4px;word-spacing:2px">Relative colony formation</text>
<rect x="289.35" y="410.20" width="10" height="58.20" fill="#164b8a"/>
<rect x="304.15" y="421.84" width="10" height="46.56" fill="#164b8a"/>
<line x1="309.15" y1="421.84" x2="309.15" y2="419.27919999999995" stroke="#17355f" stroke-width="1.0" stroke-linecap="butt"/>
<line x1="306.45" y1="419.27919999999995" x2="311.84999999999997" y2="419.27919999999995" stroke="#17355f" stroke-width="1.0" stroke-linecap="butt"/>
<rect x="319.40" y="433.48" width="10" height="34.92" fill="#164b8a"/>
<line x1="324.4" y1="433.47999999999996" x2="324.4" y2="431.9668" stroke="#17355f" stroke-width="1.0" stroke-linecap="butt"/>
<line x1="321.7" y1="431.9668" x2="327.09999999999997" y2="431.9668" stroke="#17355f" stroke-width="1.0" stroke-linecap="butt"/>
<rect x="334.20" y="442.56" width="10" height="25.84" fill="#164b8a"/>
<line x1="339.2" y1="442.5592" x2="339.2" y2="439.8238" stroke="#17355f" stroke-width="1.0" stroke-linecap="butt"/>
<line x1="336.5" y1="439.8238" x2="341.9" y2="439.8238" stroke="#17355f" stroke-width="1.0" stroke-linecap="butt"/>
<rect x="349.00" y="429.23" width="10" height="39.17" fill="#164b8a"/>
<line x1="354" y1="429.23139999999995" x2="354" y2="426.7288" stroke="#17355f" stroke-width="1.0" stroke-linecap="butt"/>
<line x1="351.3" y1="426.7288" x2="356.7" y2="426.7288" stroke="#17355f" stroke-width="1.0" stroke-linecap="butt"/>
<rect x="363.95" y="430.69" width="10" height="37.71" fill="#164b8a"/>
<line x1="368.95" y1="430.6864" x2="368.95" y2="428.18379999999996" stroke="#17355f" stroke-width="1.0" stroke-linecap="butt"/>
<line x1="366.25" y1="428.18379999999996" x2="371.65" y2="428.18379999999996" stroke="#17355f" stroke-width="1.0" stroke-linecap="butt"/>
<line x1="287.1" y1="378.9" x2="287.1" y2="468.95" stroke="#231f20" stroke-width="1.15" stroke-linecap="butt"/>
<line x1="286.55" y1="468.4" x2="376.8" y2="468.4" stroke="#231f20" stroke-width="1.15" stroke-linecap="butt"/>
<line x1="283.70000000000005" y1="468.4" x2="287.1" y2="468.4" stroke="#231f20" stroke-width="1.0" stroke-linecap="butt"/>
<text x="281.20000000000005" y="471.09999999999997" font-size="7.5" text-anchor="end" font-weight="normal" fill="#231f20">0.0</text>
<line x1="283.70000000000005" y1="439.29999999999995" x2="287.1" y2="439.29999999999995" stroke="#231f20" stroke-width="1.0" stroke-linecap="butt"/>
<text x="281.20000000000005" y="441.99999999999994" font-size="7.5" text-anchor="end" font-weight="normal" fill="#231f20">0.5</text>
<line x1="283.70000000000005" y1="410.2" x2="287.1" y2="410.2" stroke="#231f20" stroke-width="1.0" stroke-linecap="butt"/>
<text x="281.20000000000005" y="412.9" font-size="7.5" text-anchor="end" font-weight="normal" fill="#231f20">1.0</text>
<line x1="283.70000000000005" y1="381.09999999999997" x2="287.1" y2="381.09999999999997" stroke="#231f20" stroke-width="1.0" stroke-linecap="butt"/>
<text x="281.20000000000005" y="383.79999999999995" font-size="7.5" text-anchor="end" font-weight="normal" fill="#231f20">1.5</text>
<line x1="294.35" y1="468.4" x2="294.35" y2="471.79999999999995" stroke="#231f20" stroke-width="1.0" stroke-linecap="butt"/>
<line x1="309.15" y1="468.4" x2="309.15" y2="471.79999999999995" stroke="#231f20" stroke-width="1.0" stroke-linecap="butt"/>
<line x1="324.4" y1="468.4" x2="324.4" y2="471.79999999999995" stroke="#231f20" stroke-width="1.0" stroke-linecap="butt"/>
<line x1="339.2" y1="468.4" x2="339.2" y2="471.79999999999995" stroke="#231f20" stroke-width="1.0" stroke-linecap="butt"/>
<line x1="354" y1="468.4" x2="354" y2="471.79999999999995" stroke="#231f20" stroke-width="1.0" stroke-linecap="butt"/>
<line x1="368.95" y1="468.4" x2="368.95" y2="471.79999999999995" stroke="#231f20" stroke-width="1.0" stroke-linecap="butt"/>
<text x="297.05" y="477.7" font-size="7.5" text-anchor="end" font-weight="normal" fill="#231f20" transform="rotate(-45 297.05 477.7)">Ctrl</text>
<text x="311.84999999999997" y="477.7" font-size="7.5" text-anchor="end" font-weight="normal" fill="#231f20" transform="rotate(-45 311.84999999999997 477.7)">GSI</text>
<text x="327.09999999999997" y="477.7" font-size="7.5" text-anchor="end" font-weight="normal" fill="#231f20" transform="rotate(-45 327.09999999999997 477.7)">Mel</text>
<text x="341.9" y="477.7" font-size="7.5" text-anchor="end" font-weight="normal" fill="#231f20" transform="rotate(-45 341.9 477.7)">GSI + Mel</text>
<text x="356.7" y="477.7" font-size="7.5" text-anchor="end" font-weight="normal" fill="#231f20" transform="rotate(-45 356.7 477.7)">BTZ</text>
<text x="371.65" y="477.7" font-size="7.5" text-anchor="end" font-weight="normal" fill="#231f20" transform="rotate(-45 371.65 477.7)">GSI + BTZ</text>
<path d="M324.1 403.20000000000005V398.6H340.2V403.20000000000005" fill="none" stroke="#231f20" stroke-width="1.0"/>
<text x="332.1" y="397" font-size="7.5" text-anchor="middle" font-weight="bold" fill="#231f20">*</text>
<path d="M353.7 403.20000000000005V398.6H369.1V403.20000000000005" fill="none" stroke="#231f20" stroke-width="1.0"/>
<text x="361.3" y="397" font-size="7.5" text-anchor="middle" font-weight="bold" fill="#231f20">*</text>
<text x="391.6" y="370.6" font-size="11" text-anchor="start" font-weight="bold" fill="#000" style="stroke:#000;stroke-width:.45px">I</text>
<line x1="427.6" y1="384.4" x2="427.6" y2="468.95" stroke="#231f20" stroke-width="1.15" stroke-linecap="butt"/>
<line x1="427.05" y1="468.4" x2="494.2" y2="468.4" stroke="#231f20" stroke-width="1.15" stroke-linecap="butt"/>
<line x1="424.20000000000005" y1="468.4" x2="427.6" y2="468.4" stroke="#231f20" stroke-width="1.0" stroke-linecap="butt"/>
<text x="422.0" y="471.09999999999997" font-size="7.5" text-anchor="end" font-weight="normal" fill="#231f20">0</text>
<line x1="424.20000000000005" y1="452.02" x2="427.6" y2="452.02" stroke="#231f20" stroke-width="1.0" stroke-linecap="butt"/>
<text x="422.0" y="454.71999999999997" font-size="7.5" text-anchor="end" font-weight="normal" fill="#231f20">10</text>
<line x1="424.20000000000005" y1="435.64" x2="427.6" y2="435.64" stroke="#231f20" stroke-width="1.0" stroke-linecap="butt"/>
<text x="422.0" y="438.34" font-size="7.5" text-anchor="end" font-weight="normal" fill="#231f20">20</text>
<line x1="424.20000000000005" y1="419.26" x2="427.6" y2="419.26" stroke="#231f20" stroke-width="1.0" stroke-linecap="butt"/>
<text x="422.0" y="421.96" font-size="7.5" text-anchor="end" font-weight="normal" fill="#231f20">30</text>
<line x1="424.20000000000005" y1="402.88" x2="427.6" y2="402.88" stroke="#231f20" stroke-width="1.0" stroke-linecap="butt"/>
<text x="422.0" y="405.58" font-size="7.5" text-anchor="end" font-weight="normal" fill="#231f20">40</text>
<line x1="424.20000000000005" y1="386.5" x2="427.6" y2="386.5" stroke="#231f20" stroke-width="1.0" stroke-linecap="butt"/>
<text x="422.0" y="389.2" font-size="7.5" text-anchor="end" font-weight="normal" fill="#231f20">50</text>
<line x1="435.3" y1="468.4" x2="435.3" y2="471.79999999999995" stroke="#231f20" stroke-width="1.0" stroke-linecap="butt"/>
<text x="438.0" y="477.7" font-size="7.5" text-anchor="end" font-weight="normal" fill="#231f20" transform="rotate(-45 438.0 477.7)">Ctrl</text>
<line x1="451.8" y1="468.4" x2="451.8" y2="471.79999999999995" stroke="#231f20" stroke-width="1.0" stroke-linecap="butt"/>
<text x="454.5" y="477.7" font-size="7.5" text-anchor="end" font-weight="normal" fill="#231f20" transform="rotate(-45 454.5 477.7)">GSI</text>
<line x1="468.2" y1="468.4" x2="468.2" y2="471.79999999999995" stroke="#231f20" stroke-width="1.0" stroke-linecap="butt"/>
<text x="470.9" y="477.7" font-size="7.5" text-anchor="end" font-weight="normal" fill="#231f20" transform="rotate(-45 470.9 477.7)">Ctrl</text>
<line x1="484.6" y1="468.4" x2="484.6" y2="471.79999999999995" stroke="#231f20" stroke-width="1.0" stroke-linecap="butt"/>
<text x="487.3" y="477.7" font-size="7.5" text-anchor="end" font-weight="normal" fill="#231f20" transform="rotate(-45 487.3 477.7)">GSI</text>
<text x="403.6" y="438.2" font-size="9" font-weight="bold" fill="#231f20" style="stroke-width:0" transform="rotate(-90 403.6 438.2)" dominant-baseline="central" textLength="28.4" lengthAdjust="spacingAndGlyphs">IC<tspan font-size="6" dy="1.5">50</tspan><tspan dy="-1.5"> [nM]</tspan></text>
<path d="M429.9 458.945H434.5L432.2 463.2Z" fill="#b80a28"/>
<path d="M436.09999999999997 458.945H440.7L438.4 463.2Z" fill="#b80a28"/>
<path d="M433.0 461.445H437.6L435.3 465.7Z" fill="#b80a28"/>
<path d="M433.0 459.64500000000004H437.6L435.3 463.90000000000003Z" fill="#b80a28"/>
<circle cx="448.9" cy="460.4" r="1.9" fill="#1a467f"/>
<circle cx="452.0" cy="461.8" r="1.9" fill="#1a467f"/>
<circle cx="455.3" cy="460.4" r="1.9" fill="#1a467f"/>
<path d="M464.2 420.22999999999996H467.8L466 416.9Z" fill="#a80a26"/>
<path d="M469.09999999999997 421.22999999999996H472.7L470.9 417.9Z" fill="#a80a26"/>
<path d="M466.5 449.83H470.1L468.3 446.5Z" fill="#a80a26"/>
<path d="M482.8 393.22H486.40000000000003L484.6 396.55Z" fill="#15335f"/>
<path d="M482.8 404.87H486.40000000000003L484.6 408.2Z" fill="#15335f"/>
<path d="M482.8 443.17H486.40000000000003L484.6 446.5Z" fill="#15335f"/>
<line x1="462.59999999999997" y1="428.6" x2="474.2" y2="428.6" stroke="#231f20" stroke-width="0.8" stroke-linecap="butt"/>
<line x1="468.4" y1="419.7" x2="468.4" y2="438.1" stroke="#231f20" stroke-width="0.8" stroke-linecap="butt"/>
<line x1="465.7" y1="419.7" x2="471.09999999999997" y2="419.7" stroke="#231f20" stroke-width="0.8" stroke-linecap="butt"/>
<line x1="465.7" y1="438.1" x2="471.09999999999997" y2="438.1" stroke="#231f20" stroke-width="0.8" stroke-linecap="butt"/>
<line x1="478.8" y1="415.5" x2="490.40000000000003" y2="415.5" stroke="#231f20" stroke-width="0.8" stroke-linecap="butt"/>
<line x1="484.6" y1="400.7" x2="484.6" y2="430.7" stroke="#231f20" stroke-width="0.8" stroke-linecap="butt"/>
<line x1="481.90000000000003" y1="400.7" x2="487.3" y2="400.7" stroke="#231f20" stroke-width="0.8" stroke-linecap="butt"/>
<line x1="481.90000000000003" y1="430.7" x2="487.3" y2="430.7" stroke="#231f20" stroke-width="0.8" stroke-linecap="butt"/>
<path d="M434.9 388.0V383.8H452.5V388.0" fill="none" stroke="#231f20" stroke-width="1.0"/>
<text x="443.6" y="381" font-size="7.5" text-anchor="middle" font-weight="normal" fill="#231f20">n.s.</text>
<path d="M468.1 388.0V383.8H485.3V388.0" fill="none" stroke="#231f20" stroke-width="1.0"/>
<text x="476.4" y="381" font-size="7.5" text-anchor="middle" font-weight="normal" fill="#231f20">n.s.</text>
<line x1="430.5" y1="492.5" x2="458.2" y2="492.5" stroke="#231f20" stroke-width="0.8" stroke-linecap="butt"/>
<text x="444.2" y="501.8" font-size="7.5" text-anchor="middle" font-weight="normal" fill="#231f20">Scr</text>
<line x1="462.8" y1="492.5" x2="490.8" y2="492.5" stroke="#231f20" stroke-width="0.8" stroke-linecap="butt"/>
<text x="476.8" y="501.8" font-size="7.5" text-anchor="middle" font-weight="normal" fill="#231f20">p53-KO</text>
<text x="168.6" y="16.0" font-size="11" text-anchor="start" font-weight="bold" fill="#000" style="stroke:#000;stroke-width:.45px">B</text>
<line x1="181.3" y1="24.5" x2="228.3" y2="24.5" stroke="#231f20" stroke-width="0.8" stroke-linecap="butt"/>
<text x="205.4" y="19.6" font-size="7.5" text-anchor="middle" font-weight="normal" fill="#231f20">Scr</text>
<line x1="235" y1="24.5" x2="283" y2="24.5" stroke="#231f20" stroke-width="0.8" stroke-linecap="butt"/>
<text x="258.6" y="19.6" font-size="7.5" text-anchor="middle" font-weight="normal" fill="#231f20">p53KO</text>
<text x="187" y="35.8" font-size="7.5" text-anchor="start" font-weight="normal" fill="#231f20">Ctrl</text>
<text x="202" y="35.8" font-size="7.5" text-anchor="start" font-weight="normal" fill="#231f20">1.0</text>
<text x="215.3" y="35.8" font-size="7.5" text-anchor="start" font-weight="normal" fill="#231f20">2.5</text>
<text x="239.5" y="35.8" font-size="7.5" text-anchor="start" font-weight="normal" fill="#231f20">Ctrl</text>
<text x="254.5" y="35.8" font-size="7.5" text-anchor="start" font-weight="normal" fill="#231f20">1.0</text>
<text x="267.6" y="35.8" font-size="7.5" text-anchor="start" font-weight="normal" fill="#231f20">2.5</text>
<text x="289" y="35.8" font-size="7.5" text-anchor="start" font-weight="normal" fill="#231f20">GSI (nM)</text>
<g clip-path="url(#cb1)">
<rect x="180" y="40" width="50" height="53.4" fill="#dbdbdb"/>
<rect x="182" y="40" width="12" height="56" fill="url(#lgL)" opacity="0.95" filter="url(#b11)"/>
<rect x="183.80" y="51.30" width="10" height="2.6" rx="1.3" fill="#808080" opacity="0.3" filter="url(#b10)"/>
<rect x="181.90" y="85.60" width="12.2" height="3.6" rx="1.6" fill="#000" opacity="0.8464" filter="url(#b12)"/>
<rect x="199" y="40" width="12" height="56" fill="url(#lgL)" opacity="0.95" filter="url(#b11)"/>
<rect x="200.80" y="51.30" width="10" height="2.6" rx="1.3" fill="#808080" opacity="0.5" filter="url(#b10)"/>
<rect x="198.90" y="85.60" width="12.2" height="3.6" rx="1.6" fill="#000" opacity="0.92" filter="url(#b12)"/>
<rect x="216" y="40" width="12" height="56" fill="url(#lgL)" opacity="0.95" filter="url(#b11)"/>
<rect x="217.80" y="51.30" width="10" height="2.6" rx="1.3" fill="#808080" opacity="0.45" filter="url(#b10)"/>
<rect x="215.90" y="85.60" width="12.2" height="3.6" rx="1.6" fill="#000" opacity="0.8096" filter="url(#b12)"/>
<rect x="180" y="91" width="50" height="3" fill="#b8b8b8" opacity="0.5" filter="url(#b8)"/>
</g>
<g clip-path="url(#cb2)">
<rect x="234.4" y="40" width="51.2" height="53.6" fill="#e2e2e2"/>
<rect x="236.8" y="40" width="12.4" height="56" fill="url(#lgR)" opacity="0.95" filter="url(#b11)"/>
<rect x="238.00" y="47.20" width="10" height="2.4" rx="1.2" fill="#999" opacity="0.35" filter="url(#b10)"/>
<rect x="236.70" y="83.10" width="12.6" height="4.2" rx="1.6" fill="#000" opacity="0.95" filter="url(#b12)"/>
<rect x="253.10000000000002" y="40" width="12.4" height="56" fill="url(#lgR)" opacity="0.95" filter="url(#b11)"/>
<rect x="254.30" y="47.20" width="10" height="2.4" rx="1.2" fill="#999" opacity="0.35" filter="url(#b10)"/>
<rect x="253.00" y="83.10" width="12.6" height="4.2" rx="1.6" fill="#000" opacity="0.9025" filter="url(#b12)"/>
<rect x="270.0" y="40" width="12.4" height="56" fill="url(#lgR)" opacity="0.95" filter="url(#b11)"/>
<rect x="271.20" y="47.20" width="10" height="2.4" rx="1.2" fill="#999" opacity="0.35" filter="url(#b10)"/>
<rect x="269.90" y="83.10" width="12.6" height="4.2" rx="1.6" fill="#000" opacity="0.855" filter="url(#b12)"/>
<rect x="234" y="90.2" width="52" height="4" fill="#a4a4a4" opacity="0.7" filter="url(#b8)"/>
</g>
<rect x="180.4" y="95.7" width="49.6" height="9.2" fill="#fff" stroke="#231f20" stroke-width="0.7"/>
<line x1="197.3" y1="95.7" x2="197.3" y2="104.9" stroke="#231f20" stroke-width="0.7" stroke-linecap="butt"/>
<line x1="213.6" y1="95.7" x2="213.6" y2="104.9" stroke="#231f20" stroke-width="0.7" stroke-linecap="butt"/>
<text x="188.85000000000002" y="103.05" font-size="7.6" text-anchor="middle" font-weight="normal" fill="#231f20">1.00</text>
<text x="205.45" y="103.05" font-size="7.6" text-anchor="middle" font-weight="normal" fill="#231f20">1.08</text>
<text x="221.8" y="103.05" font-size="7.6" text-anchor="middle" font-weight="normal" fill="#231f20">0.75</text>
<rect x="234.9" y="95.7" width="50.6" height="9.2" fill="#fff" stroke="#231f20" stroke-width="0.7"/>
<line x1="251.8" y1="95.7" x2="251.8" y2="104.9" stroke="#231f20" stroke-width="0.7" stroke-linecap="butt"/>
<line x1="268.8" y1="95.7" x2="268.8" y2="104.9" stroke="#231f20" stroke-width="0.7" stroke-linecap="butt"/>
<text x="243.35000000000002" y="103.05" font-size="7.6" text-anchor="middle" font-weight="normal" fill="#231f20">1.53</text>
<text x="260.3" y="103.05" font-size="7.6" text-anchor="middle" font-weight="normal" fill="#231f20">1.61</text>
<text x="277.15" y="103.05" font-size="7.6" text-anchor="middle" font-weight="normal" fill="#231f20">1.10</text>
<g clip-path="url(#cb3)">
<rect x="180" y="107" width="50" height="14.2" fill="#c8c8c8"/>
<rect x="181.6" y="106" width="12.8" height="17" fill="#9c9c9c" opacity="0.85" filter="url(#b11)"/>
<rect x="182.00" y="108.40" width="12" height="2.4" rx="1.2" fill="#777" opacity="0.55" filter="url(#b10)"/>
<rect x="181.80" y="114.30" width="12.4" height="2.6" rx="1.3" fill="#3a3a3a" opacity="0.8" filter="url(#b11)"/>
<rect x="198.6" y="106" width="12.8" height="17" fill="#9c9c9c" opacity="0.85" filter="url(#b11)"/>
<rect x="199.00" y="108.40" width="12" height="2.4" rx="1.2" fill="#777" opacity="0.55" filter="url(#b10)"/>
<rect x="198.80" y="114.30" width="12.4" height="2.6" rx="1.3" fill="#3a3a3a" opacity="0.55" filter="url(#b11)"/>
<rect x="215.6" y="106" width="12.8" height="17" fill="#9c9c9c" opacity="0.85" filter="url(#b11)"/>
<rect x="216.00" y="108.40" width="12" height="2.4" rx="1.2" fill="#777" opacity="0.55" filter="url(#b10)"/>
<rect x="215.80" y="114.30" width="12.4" height="2.6" rx="1.3" fill="#3a3a3a" opacity="0.5" filter="url(#b11)"/>
</g>
<g clip-path="url(#cb4)">
<rect x="234.4" y="107" width="51.2" height="14.2" fill="#c6c6c6"/>
<rect x="236.6" y="106" width="12.8" height="17" fill="#989898" opacity="0.85" filter="url(#b11)"/>
<rect x="236.70" y="109.10" width="12.6" height="7.0" rx="1.6" fill="#0a0a0a" opacity="1.0" filter="url(#b13)"/>
<rect x="236.80" y="116.70" width="12.4" height="2.2" rx="1.1" fill="#444" opacity="0.5" filter="url(#b10)"/>
<rect x="252.9" y="106" width="12.8" height="17" fill="#989898" opacity="0.85" filter="url(#b11)"/>
<rect x="253.00" y="109.90" width="12.6" height="3.4" rx="1.6" fill="#0a0a0a" opacity="0.5" filter="url(#b13)"/>
<rect x="253.10" y="116.70" width="12.4" height="2.2" rx="1.1" fill="#444" opacity="0.25" filter="url(#b10)"/>
<rect x="269.8" y="106" width="12.8" height="17" fill="#989898" opacity="0.85" filter="url(#b11)"/>
<rect x="269.90" y="109.60" width="12.6" height="4.0" rx="1.6" fill="#0a0a0a" opacity="0.7" filter="url(#b13)"/>
<rect x="270.00" y="116.70" width="12.4" height="2.2" rx="1.1" fill="#444" opacity="0.35" filter="url(#b10)"/>
</g>
<rect x="180.4" y="123" width="49.6" height="8.6" fill="#fff" stroke="#231f20" stroke-width="0.7"/>
<line x1="197.3" y1="123" x2="197.3" y2="131.6" stroke="#231f20" stroke-width="0.7" stroke-linecap="butt"/>
<line x1="213.6" y1="123" x2="213.6" y2="131.6" stroke="#231f20" stroke-width="0.7" stroke-linecap="butt"/>
<text x="188.85000000000002" y="130.05" font-size="7.6" text-anchor="middle" font-weight="normal" fill="#231f20">1.00</text>
<text x="205.45" y="130.05" font-size="7.6" text-anchor="middle" font-weight="normal" fill="#231f20">0.98</text>
<text x="221.8" y="130.05" font-size="7.6" text-anchor="middle" font-weight="normal" fill="#231f20">0.85</text>
<rect x="234.9" y="123" width="50.6" height="8.6" fill="#fff" stroke="#231f20" stroke-width="0.7"/>
<line x1="251.8" y1="123" x2="251.8" y2="131.6" stroke="#231f20" stroke-width="0.7" stroke-linecap="butt"/>
<line x1="268.8" y1="123" x2="268.8" y2="131.6" stroke="#231f20" stroke-width="0.7" stroke-linecap="butt"/>
<text x="243.35000000000002" y="130.05" font-size="7.6" text-anchor="middle" font-weight="normal" fill="#231f20">3.08</text>
<text x="260.3" y="130.05" font-size="7.6" text-anchor="middle" font-weight="normal" fill="#231f20">2.88</text>
<text x="277.15" y="130.05" font-size="7.6" text-anchor="middle" font-weight="normal" fill="#231f20">2.62</text>
<g clip-path="url(#cb5)">
<rect x="180" y="133.2" width="50" height="14.6" fill="#cdcdcd"/>
<rect x="180" y="135.5" width="50" height="10" fill="#b8b8b8" opacity="0.45" filter="url(#b15)"/>
<rect x="180.60" y="138.30" width="15.6" height="4.4" rx="1.6" fill="#000" opacity="1.0" filter="url(#b12)"/>
<rect x="198.20" y="138.30" width="14.2" height="4.4" rx="1.6" fill="#000" opacity="1.0" filter="url(#b12)"/>
<rect x="214.60" y="138.30" width="14.4" height="4.4" rx="1.6" fill="#000" opacity="1.0" filter="url(#b12)"/>
</g>
<g clip-path="url(#cb6)">
<rect x="234.4" y="133.2" width="51.2" height="14.6" fill="#cdcdcd"/>
<rect x="234" y="135.5" width="52" height="10" fill="#b8b8b8" opacity="0.45" filter="url(#b15)"/>
<rect x="235.00" y="138.10" width="15.2" height="4.8" rx="1.6" fill="#000" opacity="1.0" filter="url(#b12)"/>
<rect x="252.00" y="139.20" width="13.6" height="3.4" rx="1.6" fill="#000" opacity="0.85" filter="url(#b12)"/>
<rect x="267.70" y="138.30" width="15.4" height="4.4" rx="1.6" fill="#000" opacity="1.0" filter="url(#b12)"/>
</g>
<rect x="180.4" y="150.5" width="49.6" height="8.4" fill="#fff" stroke="#231f20" stroke-width="0.7"/>
<line x1="197.3" y1="150.5" x2="197.3" y2="158.9" stroke="#231f20" stroke-width="0.7" stroke-linecap="butt"/>
<line x1="213.6" y1="150.5" x2="213.6" y2="158.9" stroke="#231f20" stroke-width="0.7" stroke-linecap="butt"/>
<text x="188.85000000000002" y="157.45" font-size="7.6" text-anchor="middle" font-weight="normal" fill="#231f20">1.00</text>
<text x="205.45" y="157.45" font-size="7.6" text-anchor="middle" font-weight="normal" fill="#231f20">1.10</text>
<text x="221.8" y="157.45" font-size="7.6" text-anchor="middle" font-weight="normal" fill="#231f20">1.09</text>
<rect x="234.9" y="150.5" width="50.6" height="8.4" fill="#fff" stroke="#231f20" stroke-width="0.7"/>
<line x1="251.8" y1="150.5" x2="251.8" y2="158.9" stroke="#231f20" stroke-width="0.7" stroke-linecap="butt"/>
<line x1="268.8" y1="150.5" x2="268.8" y2="158.9" stroke="#231f20" stroke-width="0.7" stroke-linecap="butt"/>
<text x="243.35000000000002" y="157.45" font-size="7.6" text-anchor="middle" font-weight="normal" fill="#231f20">1.01</text>
<text x="260.3" y="157.45" font-size="7.6" text-anchor="middle" font-weight="normal" fill="#231f20">0.83</text>
<text x="277.15" y="157.45" font-size="7.6" text-anchor="middle" font-weight="normal" fill="#231f20">0.95</text>
<path d="M289.09999999999997 48.6L297.7 46.300000000000004V50.9Z" fill="#000"/>
<text x="300.5" y="51.300000000000004" font-size="7.5" text-anchor="start" font-weight="normal" fill="#231f20">Full length NOTCH1</text>
<path d="M289.09999999999997 85.6L297.7 83.3V87.89999999999999Z" fill="#000"/>
<text x="300.5" y="88.3" font-size="7.5" text-anchor="start" font-weight="normal" fill="#231f20">Cleaved NOTCH1</text>
<path d="M289.09999999999997 113L297.7 110.7V115.3Z" fill="#000"/>
<text x="300.5" y="115.7" font-size="7.5" text-anchor="start" font-weight="normal" fill="#231f20">HES1</text>
<path d="M289.09999999999997 141L297.7 138.7V143.3Z" fill="#000"/>
<text x="300.5" y="143.7" font-size="7.5" text-anchor="start" font-weight="normal" fill="#231f20">GAPDH</text>
<text x="392.3" y="194.2" font-size="11" text-anchor="start" font-weight="bold" fill="#000" style="stroke:#000;stroke-width:.45px">E</text>
<line x1="408.5" y1="210.8" x2="438" y2="210.8" stroke="#231f20" stroke-width="0.8" stroke-linecap="butt"/>
<text x="423.5" y="208.5" font-size="9" text-anchor="middle" font-weight="normal" fill="#231f20">Dox</text>
<line x1="412.6" y1="218.5" x2="416.4" y2="218.5" stroke="#231f20" stroke-width="0.8" stroke-linecap="butt"/>
<line x1="428.6" y1="218.5" x2="433.4" y2="218.5" stroke="#231f20" stroke-width="0.8" stroke-linecap="butt"/>
<line x1="431" y1="216.1" x2="431" y2="220.9" stroke="#231f20" stroke-width="0.8" stroke-linecap="butt"/>
<g clip-path="url(#ce1)">
<rect x="402.8" y="224" width="36" height="53.3" fill="#dcdcdc"/>
<rect x="406.09999999999997" y="228" width="12.6" height="52" fill="#cfcfcf" opacity="0.6" filter="url(#b15)"/>
<rect x="423.5" y="228" width="12.6" height="52" fill="#cdcdcd" opacity="0.6" filter="url(#b15)"/>
<rect x="406.65" y="232.20" width="11.5" height="2.6" rx="1.3" fill="#b4b4b4" opacity="0.5" filter="url(#b12)"/>
<rect x="424.05" y="232.20" width="11.5" height="2.6" rx="1.3" fill="#b4b4b4" opacity="0.5" filter="url(#b12)"/>
<rect x="406.40" y="262.20" width="12" height="2.6" rx="1.3" fill="#8a8a8a" opacity="0.75" filter="url(#b10)"/>
<rect x="423.80" y="262.30" width="12" height="2.6" rx="1.3" fill="#909090" opacity="0.7" filter="url(#b10)"/>
<rect x="423.80" y="266.00" width="12" height="2.6" rx="1.3" fill="#989898" opacity="0.65" filter="url(#b12)"/>
<rect x="423.50" y="269.00" width="12.6" height="3.8" rx="1.6" fill="#2c2c2c" opacity="0.9" filter="url(#b15)"/>
</g>
<g clip-path="url(#ce2)">
<rect x="402.8" y="281.2" width="36" height="9.4" fill="#d2d2d2"/>
<rect x="405.4" y="281" width="14" height="10" fill="#bdbdbd" opacity="0.6" filter="url(#b12)"/>
<rect x="423.3" y="281" width="13" height="10" fill="#bdbdbd" opacity="0.6" filter="url(#b12)"/>
<rect x="405.90" y="282.80" width="13" height="2.4" rx="1.2" fill="#6a6a6a" opacity="0.7" filter="url(#b10)"/>
<rect x="423.60" y="282.80" width="12.4" height="2.4" rx="1.2" fill="#6a6a6a" opacity="0.7" filter="url(#b10)"/>
<rect x="405.90" y="287.20" width="13" height="2.0" rx="1.0" fill="#999" opacity="0.5" filter="url(#b10)"/>
<rect x="423.60" y="287.20" width="12.4" height="2.0" rx="1.0" fill="#999" opacity="0.5" filter="url(#b10)"/>
</g>
<rect x="402.4" y="291.7" width="37.2" height="9.4" fill="#fff" stroke="#231f20" stroke-width="0.7"/>
<line x1="421.5" y1="291.7" x2="421.5" y2="301.09999999999997" stroke="#231f20" stroke-width="0.7" stroke-linecap="butt"/>
<text x="411.95" y="299.15" font-size="7.6" text-anchor="middle" font-weight="normal" fill="#231f20">1.00</text>
<text x="430.54999999999995" y="299.15" font-size="7.6" text-anchor="middle" font-weight="normal" fill="#231f20">1.43</text>
<g clip-path="url(#ce3)">
<rect x="402.8" y="304.6" width="36" height="17.8" fill="#cacaca"/>
<rect x="403" y="306" width="36" height="16" fill="#b4b4b4" opacity="0.5" filter="url(#b20)"/>
<rect x="403.70" y="311.10" width="16.6" height="5.4" rx="1.6" fill="#000" opacity="1.0" filter="url(#b15)"/>
<rect x="423.80" y="311.80" width="14" height="2.8" rx="1.4" fill="#2a2a2a" opacity="0.85" filter="url(#b12)"/>
<rect x="423.60" y="315.40" width="14.4" height="3.2" rx="1.6" fill="#161616" opacity="0.9" filter="url(#b12)"/>
</g>
<rect x="402.4" y="324.5" width="37.2" height="9.3" fill="#fff" stroke="#231f20" stroke-width="0.7"/>
<line x1="421.5" y1="324.5" x2="421.5" y2="333.8" stroke="#231f20" stroke-width="0.7" stroke-linecap="butt"/>
<text x="411.95" y="331.9" font-size="7.6" text-anchor="middle" font-weight="normal" fill="#231f20">1.00</text>
<text x="430.54999999999995" y="331.9" font-size="7.6" text-anchor="middle" font-weight="normal" fill="#231f20">0.76</text>
<path d="M440.9 234L449.5 231.7V236.3Z" fill="#000"/>
<text x="451.8" y="236.7" font-size="7.5" text-anchor="start" font-weight="normal" fill="#231f20">Full length Notch1</text>
<path d="M440.9 262.8L449.5 260.5V265.1Z" fill="#000"/>
<text x="451.8" y="265.5" font-size="7.5" text-anchor="start" font-weight="normal" fill="#231f20">Cleaved Notch1</text>
<path d="M440.9 270.9L449.5 268.59999999999997V273.2Z" fill="#000"/>
<text x="451.8" y="273.59999999999997" font-size="7.5" text-anchor="start" font-weight="normal" fill="#231f20">NICD1</text>
<path d="M440.9 285L449.5 282.7V287.3Z" fill="#000"/>
<text x="451.8" y="287.7" font-size="7.5" text-anchor="start" font-weight="normal" fill="#231f20">Hes1</text>
<path d="M440.9 314.7L449.5 312.4V317.0Z" fill="#000"/>
<text x="451.8" y="317.4" font-size="7.5" text-anchor="start" font-weight="normal" fill="#231f20">GAPDH</text>
<rect x="0.5" y="0.5" width="519" height="519" fill="none" stroke="#565656" stroke-width="1"/>
</svg>
</div>
</body></html>
